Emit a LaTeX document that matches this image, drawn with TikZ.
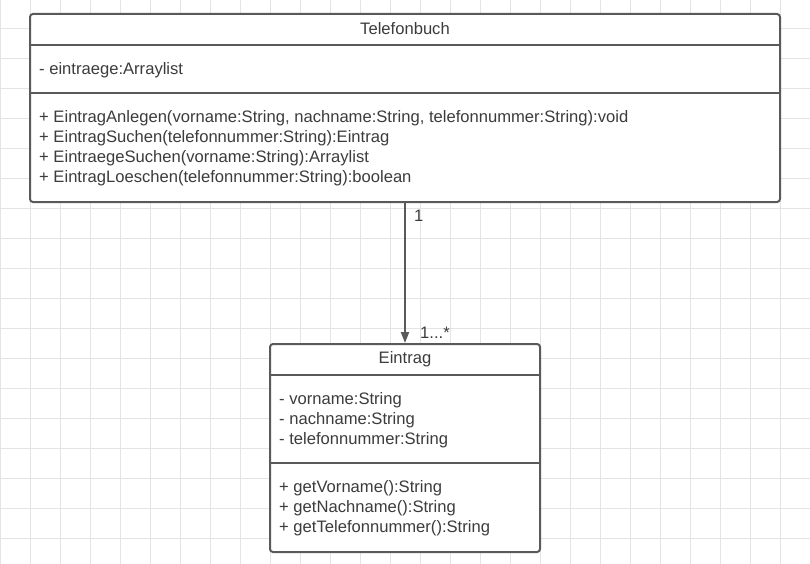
\documentclass[tikz,border=0pt]{standalone}
\usepackage{fontspec}
\setmainfont{Liberation Sans}
\usetikzlibrary{arrows.meta,positioning,calc}
\definecolor{umlLine}{HTML}{5A5A5A}
\definecolor{umlText}{HTML}{3C3C3C}
\definecolor{umlGrid}{HTML}{E4E4E4}

\begin{document}
\begin{tikzpicture}[x=1pt, y=-1pt, font=\fontsize{16.6}{20}\selectfont, >=Stealth,
  classbox/.style={draw=umlLine, line width=2pt, rounded corners=3pt, fill=white, inner sep=0pt},
  sepline/.style={draw=umlLine, line width=2pt},
  member/.style={anchor=west, align=left, text=umlText, inner sep=0pt},
  classname/.style={text=umlText, inner sep=0pt},
  mult/.style={anchor=west, text=umlText, inner sep=0pt}]
\useasboundingbox (0,0) rectangle (810,564);
% ---------- background grid ----------
\foreach \gx in {0,30,...,810}
  \draw[umlGrid, line width=1pt] (\gx,0)--(\gx,564);
\foreach \k in {0,...,18}
  \draw[umlGrid, line width=1pt] (0,{28.3+30*\k})--(810,{28.3+30*\k});
% ---------- class Telefonbuch ----------
\node[classbox, minimum width=750pt, minimum height=188pt] (tb) at (405,108) {};
\draw[sepline] ($(tb.north west)+(0,32)$) -- ($(tb.north east)+(0,32)$);
\draw[sepline] ($(tb.north west)+(0,80)$) -- ($(tb.north east)+(0,80)$);
\node[classname] (tbname) at ($(tb.north)+(0,15.5)$) {Telefonbuch};
\node[member] (tbattr) at ($(tb.north west)+(10,57.5)$) {- eintraege:Arraylist};
\node[member] (tbops) at ($(tb.north west)+(10,135.5)$)
  {+ EintragAnlegen(vorname:String, nachname:String, telefonnummer:String):void\\
   + EintragSuchen(telefonnummer:String):Eintrag\\
   + EintraegeSuchen(vorname:String):Arraylist\\
   + EintragLoeschen(telefonnummer:String):boolean};
% ---------- class Eintrag ----------
\node[classbox, minimum width=270pt, minimum height=208pt] (ein) at (405,448) {};
\draw[sepline] ($(ein.north west)+(0,32)$) -- ($(ein.north east)+(0,32)$);
\draw[sepline] ($(ein.north west)+(0,120)$) -- ($(ein.north east)+(0,120)$);
\node[classname] (einname) at ($(ein.north)+(0,16.5)$) {Eintrag};
\node[member] (einattr) at ($(ein.north west)+(10,77.5)$)
  {- vorname:String\\
   - nachname:String\\
   - telefonnummer:String};
\node[member] (einops) at ($(ein.north west)+(10,165.5)$)
  {+ getVorname():String\\
   + getNachname():String\\
   + getTelefonnummer():String};
% ---------- association ----------
\draw[umlLine, line width=2pt, -{Triangle[length=11pt,width=8pt]}] (tb.south) -- (ein.north);
\node[mult] (multtb) at ($(tb.south)+(9,13)$) {1};
\node[mult] (multein) at ($(ein.north)+(15,-10)$) {1...*};
\end{tikzpicture}
\end{document}
